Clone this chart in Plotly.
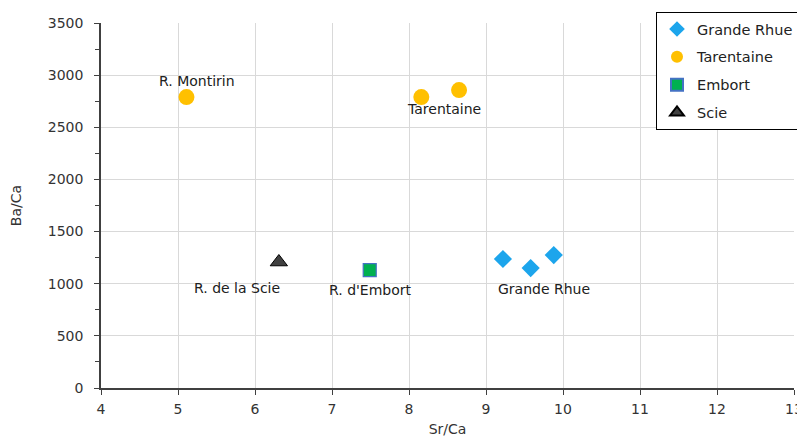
import plotly.graph_objects as go

# Data
grande_x = [9.22, 9.58, 9.88]
grande_y = [1237, 1150, 1275]
tarent_x = [5.11, 8.16, 8.65]
tarent_y = [2790, 2790, 2857]
embort_x = [7.49]
embort_y = [1131]
scie_x = [6.31]
scie_y = [1208]

label_text = ["R. Montirin", "Tarentaine", "R. de la Scie", "R. d'Embort", "Grande Rhue"]
label_x = [5.25, 8.46, 5.77, 7.5, 9.75]
label_y = [2790, 2790, 1208, 1131, 1200]
label_shift = [16, -12, -26, -20, -26]

font = "DejaVu Sans"

# page body has an 8px default margin; the figure is sized to fill the rest of the window
W, H = 797, 429

fig = go.Figure()
fig.add_trace(go.Scatter(x=grande_x, y=grande_y, mode="markers", name="Grande Rhue", legendgroup="a",
                         marker=dict(symbol="diamond", size=14, color="#1CA5EC")))
fig.add_trace(go.Scatter(x=tarent_x, y=tarent_y, mode="markers", name="Tarentaine", legendgroup="b",
                         marker=dict(symbol="circle", size=16, color="#FFC000")))
fig.add_trace(go.Scatter(x=embort_x, y=embort_y, mode="markers", name="Embort", legendgroup="c",
                         marker=dict(symbol="square", size=13, color="#00B050",
                                     line=dict(color="#4472C4", width=1.2))))
fig.add_trace(go.Scatter(x=scie_x, y=scie_y, mode="markers", name="Scie", legendgroup="d",
                         marker=dict(symbol="triangle-up", size=15, color="#404040",
                                     line=dict(color="#000000", width=1))))

for t, x, y, s in zip(label_text, label_x, label_y, label_shift):
    fig.add_annotation(x=x, y=y, text=t, showarrow=False, yshift=s,
                       font=dict(family=font, size=14, color="#202020"))

fig.update_layout(
    width=W, height=H,
    margin=dict(l=93, r=11, t=15, b=49, autoexpand=False),
    paper_bgcolor="white", plot_bgcolor="white",
    font=dict(family=font, size=14, color="#333333"),
    showlegend=True,
    legend=dict(x=648 / W, y=1 - 4 / H, xref="container", yref="container",
                xanchor="left", yanchor="top",
                bordercolor="#000000", borderwidth=1, bgcolor="white",
                font=dict(family=font, size=14.5, color="#222222"),
                itemsizing="constant", tracegroupgap=6, itemwidth=30),
)
fig.update_xaxes(range=[4, 13], dtick=1, showgrid=True, gridcolor="#D9D9D9", gridwidth=1,
                 showline=True, linecolor="#404040", linewidth=1.5,
                 ticks="outside", ticklen=5, tickcolor="#404040",
                 zeroline=False, automargin=False, ticklabeloverflow="allow",
                 ticklabelstandoff=2,
                 title=dict(text="Sr/Ca", font=dict(family=font, size=14), standoff=10))
fig.update_yaxes(range=[0, 3500], dtick=500, showgrid=True, gridcolor="#D9D9D9", gridwidth=1,
                 showline=True, linecolor="#404040", linewidth=1.5,
                 ticks="outside", ticklen=5, tickcolor="#404040",
                 minor=dict(dtick=250, ticks="outside", ticklen=4, tickcolor="#404040", showgrid=False),
                 zeroline=False, automargin=False, ticklabeloverflow="allow",
                 ticklabelstandoff=8,
                 title=dict(text="Ba/Ca", font=dict(family=font, size=14), standoff=24))

fig.write_html("out.html")
